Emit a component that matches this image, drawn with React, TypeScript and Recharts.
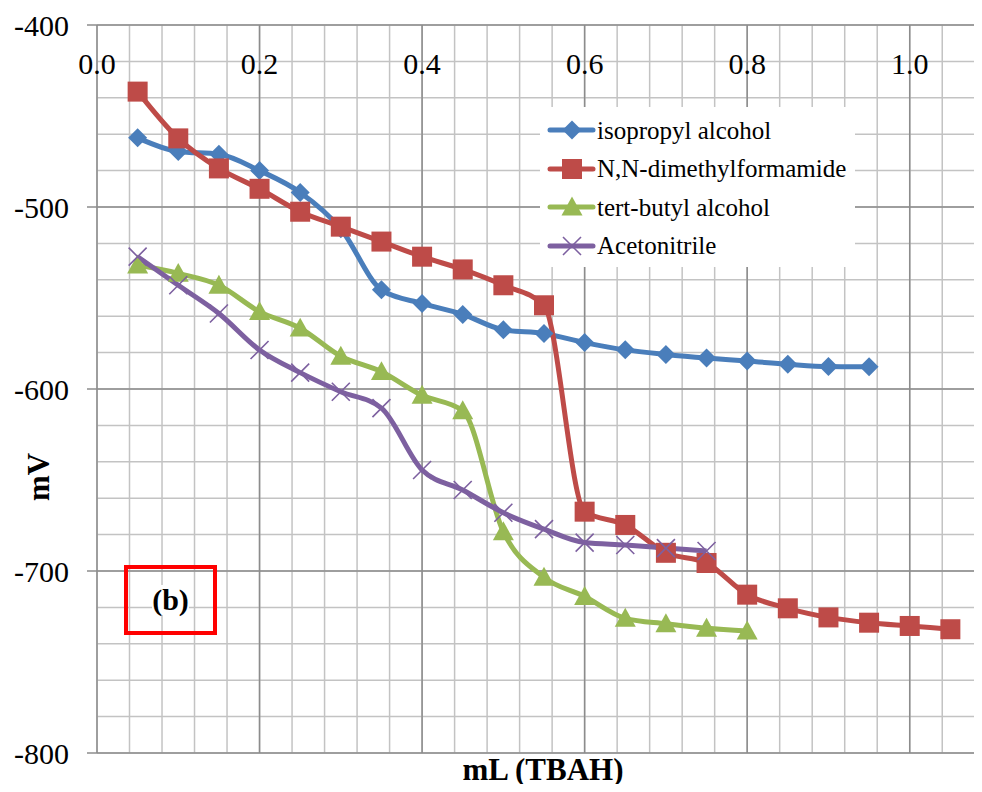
import { LineChart, Line, XAxis, YAxis, CartesianGrid, ReferenceLine, Legend } from 'recharts';

const xValues = [0.05, 0.1, 0.15, 0.2, 0.25, 0.3, 0.35, 0.4, 0.45, 0.5, 0.55, 0.6, 0.65, 0.7, 0.75, 0.8, 0.85, 0.9, 0.95, 1.0, 1.05];

const isopropyl = [-462, -469.5, -471, -480, -492, -512, -545.5, -553, -559, -567.5, -569.5, -574.5, -578.5, -581, -583, -584.6, -586.4, -587.7, -587.8];
const dmf = [-436.6, -462.3, -478.8, -490, -502.6, -510.8, -519, -527.3, -534.3, -543, -554, -667.4, -674.7, -690, -695.6, -713, -720.5, -725.5, -728.4, -730.2, -732];
const tertButyl = [-531.9, -536.5, -543, -557.5, -566.6, -582, -590.5, -603.5, -612, -678.5, -703.5, -714, -726, -729, -731.5, -733];
const acetonitrile = [-527.3, -543, -558.5, -578.6, -591, -601.5, -610.5, -644.5, -655.5, -668, -677, -684.4, -685.7, -687.4, -689];

const xGridTicks = [0, 0.04, 0.08, 0.12, 0.16, 0.2, 0.24, 0.28, 0.32, 0.36, 0.4, 0.44, 0.48, 0.52, 0.56, 0.6, 0.64, 0.68, 0.72, 0.76, 0.8, 0.84, 0.88, 0.92, 0.96, 1.0, 1.04, 1.08];
const xMajorTicks = [0, 0.2, 0.4, 0.6, 0.8, 1.0];
const yGridTicks = [-800, -780, -760, -740, -720, -700, -680, -660, -640, -620, -600, -580, -560, -540, -520, -500, -480, -460, -440, -420, -400];
const yMajorTicks = [-800, -700, -600, -500, -400];

const BLUE = '#4A7EBB';
const RED = '#BE4B48';
const GREEN = '#98B954';
const PURPLE = '#7D60A0';
const MINOR = '#c3c3c3';
const MAJOR = '#8c8c8c';
const FONT = "'Liberation Serif', 'Times New Roman', serif";

const data = xValues.map((x, i) => ({
  x,
  ipa: isopropyl[i],
  dmf: dmf[i],
  tba: tertButyl[i],
  acn: acetonitrile[i],
}));

// marker shapes, excel style
function Diamond({ cx, cy, r = 9.5 }: any) {
  if (cx == null || cy == null) return <g />;
  return <path d={`M${cx},${cy - r}L${cx + r},${cy}L${cx},${cy + r}L${cx - r},${cy}Z`} fill={BLUE} />;
}

function Square({ cx, cy, r = 10 }: any) {
  if (cx == null || cy == null) return <g />;
  return <rect x={cx - r} y={cy - r} width={r * 2} height={r * 2} fill={RED} />;
}

function Triangle({ cx, cy, r = 10.5 }: any) {
  if (cx == null || cy == null) return <g />;
  return <path d={`M${cx},${cy - r}L${cx + r},${cy + r * 0.8}L${cx - r},${cy + r * 0.8}Z`} fill={GREEN} />;
}

function Cross({ cx, cy, r = 9 }: any) {
  if (cx == null || cy == null) return <g />;
  return (
    <path
      d={`M${cx - r},${cy - r}L${cx + r},${cy + r}M${cx - r},${cy + r}L${cx + r},${cy - r}`}
      stroke={PURPLE}
      strokeWidth={1.6}
      fill="none"
    />
  );
}

const series = [
  { key: 'ipa', name: 'isopropyl alcohol', color: BLUE, Marker: Diamond },
  { key: 'dmf', name: 'N,N-dimethylformamide', color: RED, Marker: Square },
  { key: 'tba', name: 'tert-butyl alcohol', color: GREEN, Marker: Triangle },
  { key: 'acn', name: 'Acetonitrile', color: PURPLE, Marker: Cross },
];

// x labels sit just under the top edge of the plot
function XTick({ x, payload }: any) {
  const v = payload.value;
  const isMajor = Math.abs(v / 0.2 - Math.round(v / 0.2)) < 1e-6;
  if (!isMajor) return <g />;
  return (
    <text x={x} y={63} textAnchor="middle" dominantBaseline="central" fontSize={30} style={{ fontFamily: FONT }} fill="#000">
      {v.toFixed(1)}
    </text>
  );
}

function YTick({ x, y, payload }: any) {
  const v = payload.value;
  if (v % 100 !== 0) return <g />;
  return (
    <g>
      <line x1={x} x2={x + 10} y1={y} y2={y} stroke={MAJOR} strokeWidth={1.5} />
      <text x={x - 18} y={y} textAnchor="end" dominantBaseline="central" fontSize={30} style={{ fontFamily: FONT }} fill="#000">
        {v}
      </text>
    </g>
  );
}

function LegendBox() {
  return (
    <div style={{ background: '#fff', width: 315, height: 160, paddingTop: 4, boxSizing: 'border-box' }}>
      {series.map((s) => (
        <div key={s.key} style={{ display: 'flex', alignItems: 'center', height: 38.5 }}>
          <svg width={57} height={30} style={{ flex: 'none' }}>
            <line x1={10} x2={53} y1={15} y2={15} stroke={s.color} strokeWidth={5} strokeLinecap="round" />
            <s.Marker cx={32} cy={15} />
          </svg>
          <span style={{ fontFamily: FONT, fontSize: 25, color: '#000', lineHeight: 1, whiteSpace: 'nowrap' }}>{s.name}</span>
        </div>
      ))}
    </div>
  );
}

export default function App() {
  return (
    <div style={{ position: 'relative', margin: -8, width: 982, height: 792, overflow: 'hidden', background: '#fff' }}>
      <LineChart width={1000} height={792} data={data} margin={{ top: 25, right: 9, bottom: 39, left: 0 }}>
        <CartesianGrid stroke={MINOR} strokeWidth={1.5} />
        <XAxis
          dataKey="x"
          type="number"
          orientation="top"
          mirror
          height={2}
          domain={[0, 1.1]}
          ticks={xGridTicks}
          tick={<XTick />}
          tickLine={false}
          axisLine={false}
          tickSize={0}
          tickMargin={0}
          interval={0}
        />
        <YAxis
          type="number"
          width={97}
          domain={[-800, -400]}
          ticks={yGridTicks}
          tick={<YTick />}
          tickLine={false}
          axisLine={false}
          tickSize={10}
          tickMargin={0}
          interval={0}
        />
        {xMajorTicks.map((v) => (
          <ReferenceLine key={`vx-${v}`} x={v} stroke={MAJOR} strokeWidth={1.5} />
        ))}
        {yMajorTicks.map((v) => (
          <ReferenceLine key={`hy-${v}`} y={v} stroke={MAJOR} strokeWidth={1.5} />
        ))}
        {series.map((s) => (
          <Line
            key={s.key}
            dataKey={s.key}
            name={s.name}
            type="monotone"
            stroke={s.color}
            strokeWidth={5}
            dot={(p: any) => <s.Marker key={`${s.key}-${p.index}`} cx={p.cx} cy={p.cy} />}
            activeDot={false}
            isAnimationActive={false}
          />
        ))}
        <Legend
          layout="vertical"
          align="center"
          verticalAlign="middle"
          content={() => <LegendBox />}
          wrapperStyle={{ left: 540, top: 107, width: 315, height: 160 }}
        />
      </LineChart>

      <div
        style={{
          position: 'absolute',
          left: 124,
          top: 565,
          width: 93,
          height: 70,
          border: '4px solid #ff0000',
          boxSizing: 'border-box',
          display: 'flex',
          alignItems: 'center',
          justifyContent: 'center',
        }}
      >
        <span style={{ fontFamily: FONT, fontWeight: 'bold', fontSize: 30, lineHeight: 1, background: '#fff' }}>(b)</span>
      </div>

      <div
        style={{
          position: 'absolute',
          left: 443,
          top: 752,
          width: 200,
          textAlign: 'center',
          fontFamily: FONT,
          fontWeight: 'bold',
          fontSize: 31,
          lineHeight: '36px',
        }}
      >
        mL (TBAH)
      </div>

      <div
        style={{
          position: 'absolute',
          left: 38,
          top: 477,
          transform: 'translate(-50%, -50%) rotate(-90deg)',
          fontFamily: FONT,
          fontWeight: 'bold',
          fontSize: 31,
          lineHeight: 1,
          whiteSpace: 'nowrap',
        }}
      >
        mV
      </div>
    </div>
  );
}
